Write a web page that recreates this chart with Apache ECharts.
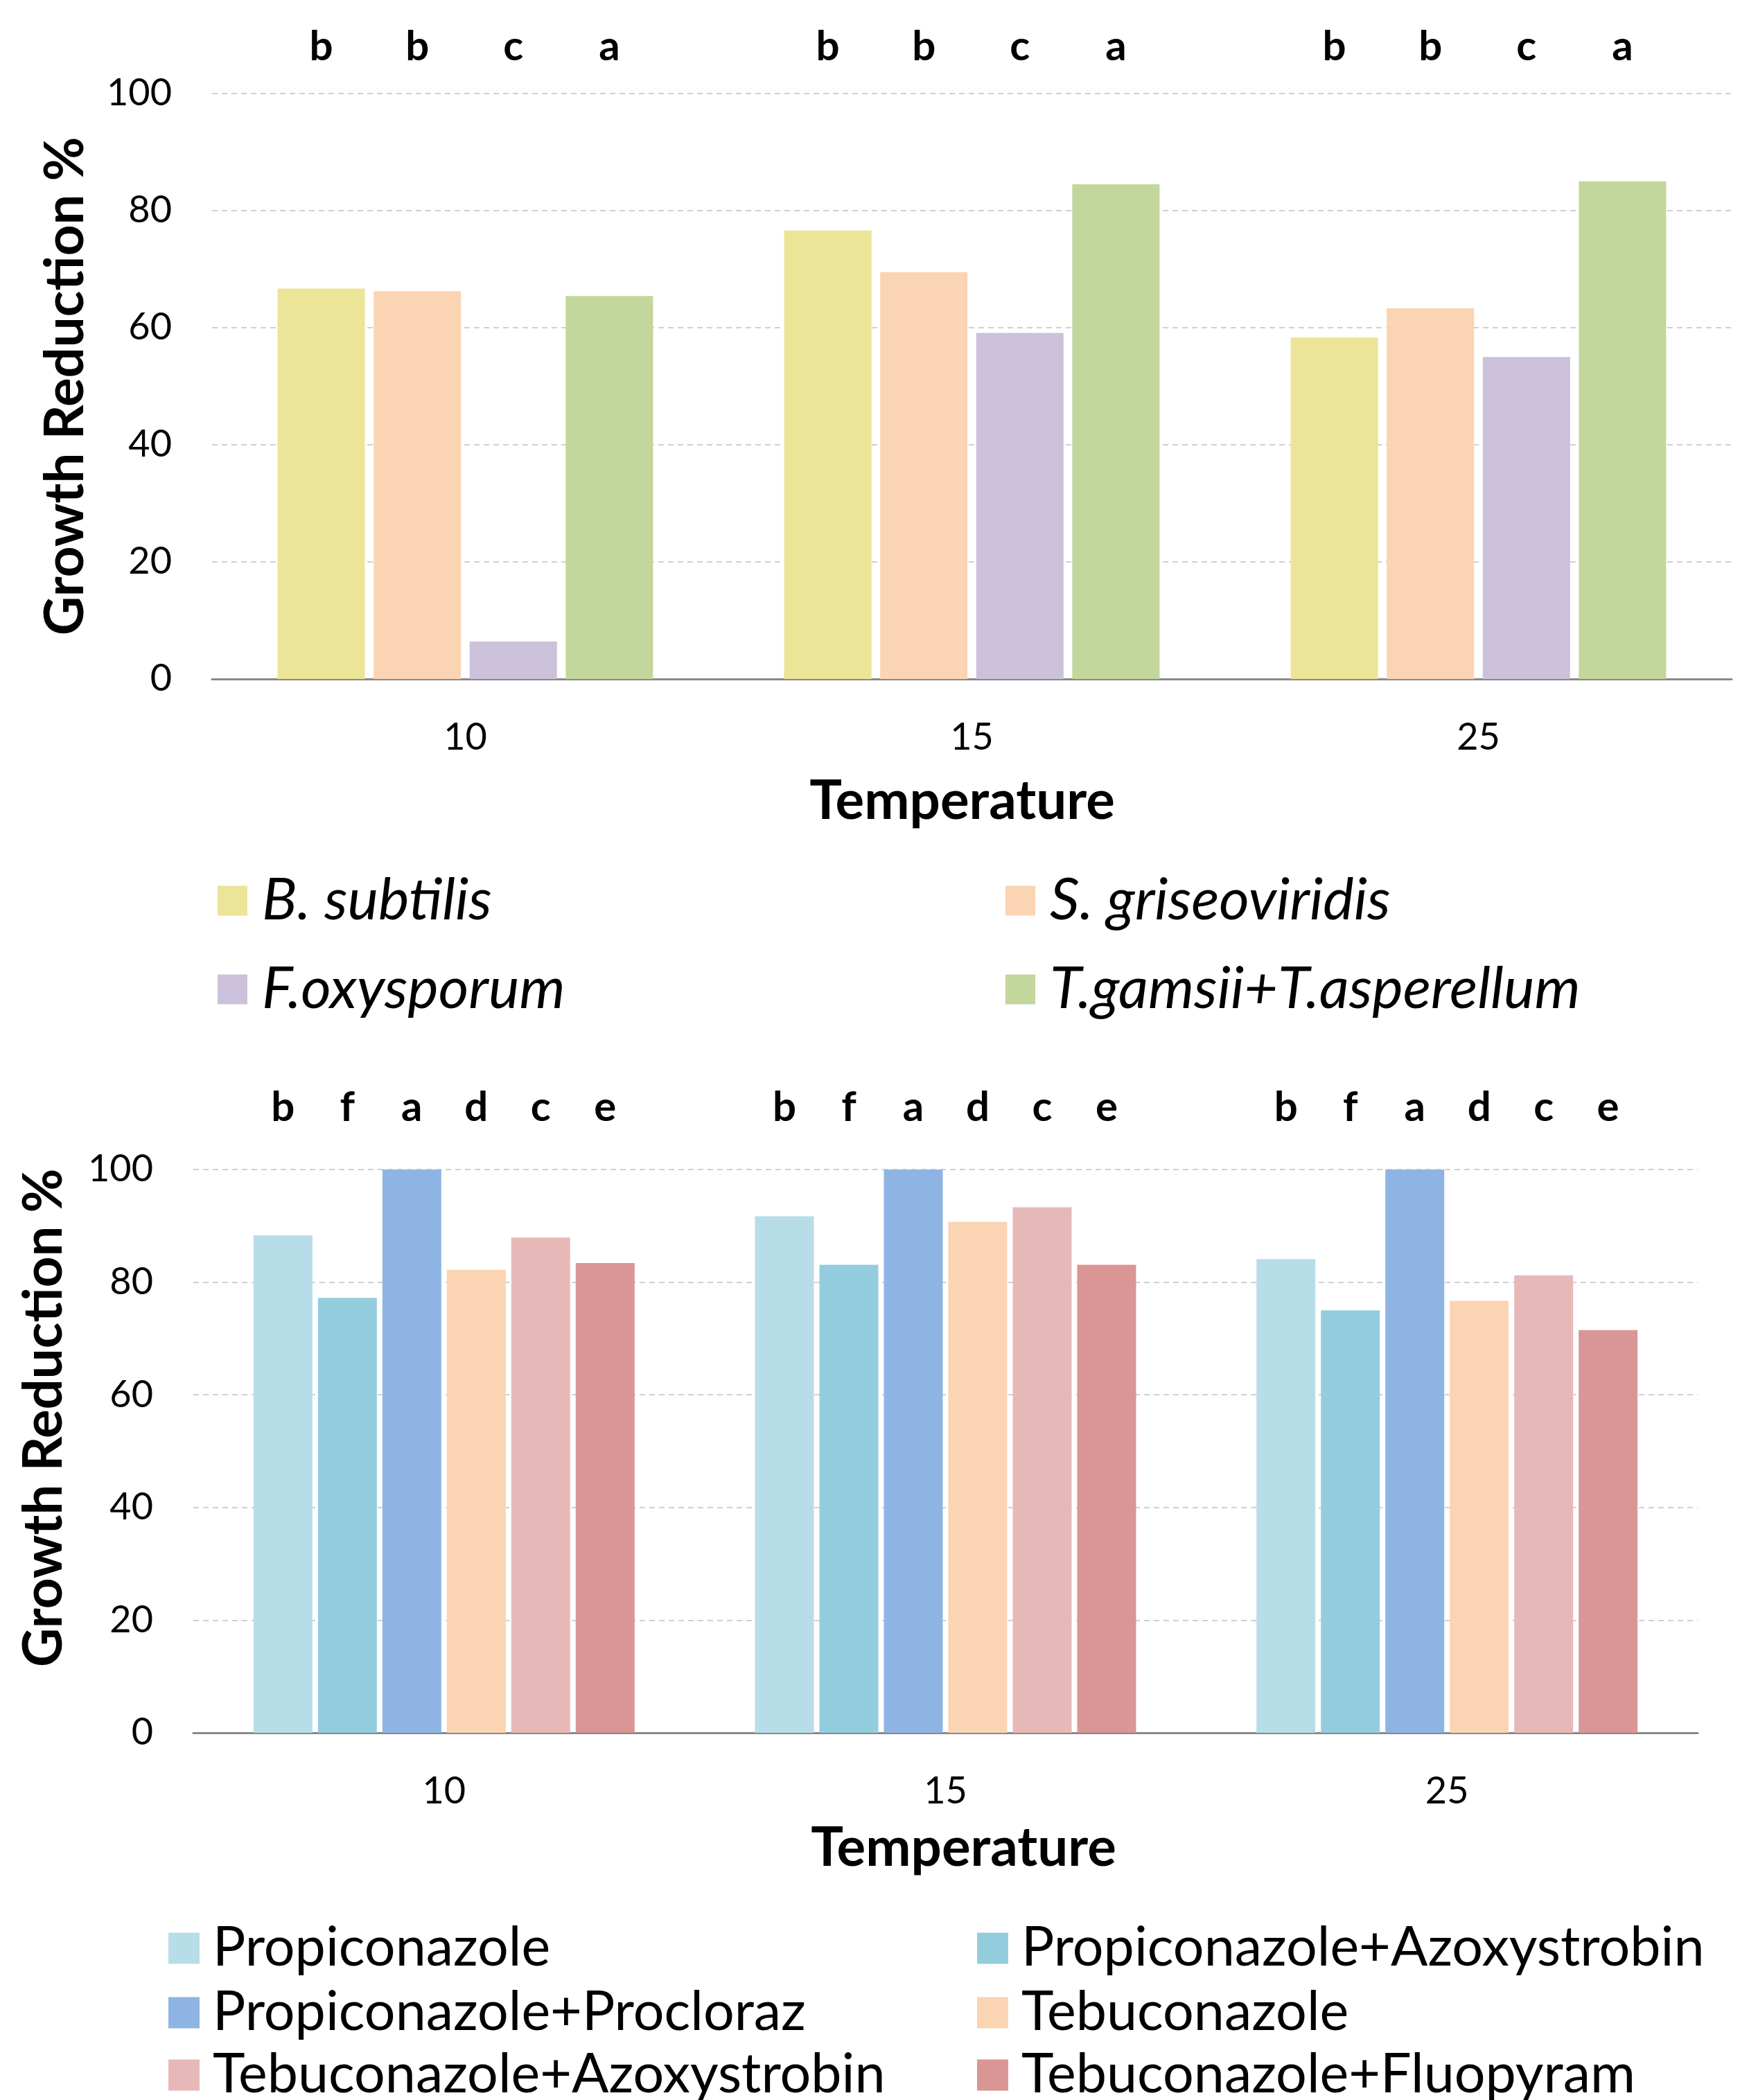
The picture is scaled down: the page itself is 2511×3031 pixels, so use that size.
<!DOCTYPE html>
<html>
<head>
<meta charset="utf-8">
<script src="https://cdn.jsdelivr.net/npm/echarts@6/dist/echarts.min.js"></script>
<style>
  html, body { margin: 0; padding: 0; background: #fff; }
  #main { width: 2511px; height: 3031px; }
</style>
</head>
<body>
<div id="main"></div>
<script>
// data
const temps = ['10', '15', '25'];

const bioNames = ['B. subtilis', 'S. griseoviridis', 'F.oxysporum', 'T.gamsii+T.asperellum'];
const bioValues = [
    [66.7, 76.6, 58.3],
    [66.2, 69.5, 63.3],
    [6.4, 59.1, 55.0],
    [65.4, 84.5, 85.0]
];
const bioLetters = [
    ['b', 'b', 'b'],
    ['b', 'b', 'b'],
    ['c', 'c', 'c'],
    ['a', 'a', 'a']
];

const chemNames = ['Propiconazole', 'Propiconazole+Azoxystrobin', 'Propiconazole+Procloraz',
    'Tebuconazole', 'Tebuconazole+Azoxystrobin', 'Tebuconazole+Fluopyram'];
const chemValues = [
    [88.3, 91.7, 84.1],
    [77.2, 83.1, 75.0],
    [100, 100, 100],
    [82.2, 90.7, 76.7],
    [87.9, 93.3, 81.2],
    [83.4, 83.1, 71.5]
];
const chemLetters = [
    ['b', 'b', 'b'],
    ['f', 'f', 'f'],
    ['a', 'a', 'a'],
    ['d', 'd', 'd'],
    ['c', 'c', 'c'],
    ['e', 'e', 'e']
];

const yMin = 0, yMax = 100, yStep = 20;

// styling
const bioColors = ['#ECE496', '#FBD4B4', '#CCC1DA', '#C3D69B'];
const chemColors = ['#B7DDE8', '#93CDDD', '#8EB4E3', '#FBD4B4', '#E6B9B8', '#D99694'];
const FONT = 'Lato';
const LETTER_LEVEL_TOP = 108;   // value height where the letters sit
const LETTER_LEVEL_BOTTOM = 111;

const chart = echarts.init(document.getElementById('main'), null, { renderer: 'canvas' });

function barSeries(names, values, letters, colors, axis, barWidth, barGap, level) {
    const out = [];
    names.forEach((name, i) => {
        out.push({
            type: 'bar',
            name: name,
            xAxisIndex: axis,
            yAxisIndex: axis,
            stack: 'g' + axis + '_' + i,
            barWidth: barWidth,
            barGap: barGap,
            data: values[i],
            itemStyle: { color: colors[i] },
            silent: true
        });
        // invisible cap up to the letter row, its label carries the letter
        out.push({
            type: 'bar',
            name: name + ' letters',
            xAxisIndex: axis,
            yAxisIndex: axis,
            stack: 'g' + axis + '_' + i,
            barWidth: barWidth,
            barGap: barGap,
            data: values[i].map(v => level - v),
            itemStyle: { color: 'rgba(0,0,0,0)' },
            clip: false,
            silent: true,
            label: {
                show: true,
                position: 'top',
                distance: 0,
                verticalAlign: 'middle',
                formatter: p => letters[i][p.dataIndex],
                fontFamily: FONT,
                fontWeight: 'bold',
                fontSize: 60,
                color: '#000'
            }
        });
    });
    return out;
}

function legends(names, colors, cols, rows, italic, fontSize, iconSize, pad) {
    return names.map((name, i) => ({
        data: [{ name: name, icon: 'rect', itemStyle: { color: colors[i] } }],
        left: cols[i % 2],
        top: rows[Math.floor(i / 2)] - 45,
        itemWidth: iconSize,
        itemHeight: iconSize,
        selectedMode: false,
        textStyle: {
            fontFamily: FONT,
            fontStyle: italic ? 'italic' : 'normal',
            fontSize: fontSize,
            lineHeight: 90,
            color: '#000',
            padding: [0, 0, 0, pad]
        }
    }));
}

const axisLabelStyle = { fontFamily: FONT, fontSize: 54, color: '#000' };
const nameStyle = { fontFamily: FONT, fontSize: 78, fontWeight: 'bold', color: '#000' };

function xAxis(idx, gap, namePad) {
    return {
        type: 'category',
        gridIndex: idx,
        data: temps,
        name: 'Temperature',
        nameLocation: 'middle',
        nameGap: gap,
        nameTextStyle: Object.assign({ padding: namePad }, nameStyle),
        axisLine: { lineStyle: { color: '#898989', width: 3 } },
        axisTick: { show: false },
        axisLabel: Object.assign({ margin: 58 }, axisLabelStyle),
        splitLine: { show: false }
    };
}

function yAxis(idx, gap, namePad) {
    return {
        type: 'value',
        gridIndex: idx,
        min: yMin,
        max: yMax,
        interval: yStep,
        name: 'Growth Reduction %',
        nameLocation: 'middle',
        nameGap: gap,
        nameTextStyle: Object.assign({ padding: namePad }, nameStyle),
        axisLine: { show: false },
        axisTick: { show: false },
        axisLabel: Object.assign({ margin: 58 }, axisLabelStyle),
        splitLine: { lineStyle: { color: '#D0D0D0', width: 2, type: [8, 6] } }
    };
}

const option = {
    animation: false,
    backgroundColor: '#fff',
    grid: [
        { left: 306, right: 12, top: 135, bottom: 3031 - 980 },
        { left: 279, right: 61, top: 1688, bottom: 3031 - 2501 }
    ],
    xAxis: [xAxis(0, 138, [0, 28, 0, 0]), xAxis(1, 128, [0, 0, 0, 52])],
    yAxis: [yAxis(0, 172, [0, 0, 0, 0]), yAxis(1, 176, [0, 0, 0, 96])],
    legend: [
        ...legends(bioNames, bioColors, [309, 1446], [1295, 1423], true, 84, 43, 16),
        ...legends(chemNames, chemColors, [238, 1405], [2807, 2900, 2990], false, 79, 45, 14)
    ],
    series: [
        ...barSeries(bioNames, bioValues, bioLetters, bioColors, 0, 126, '10%', LETTER_LEVEL_TOP),
        ...barSeries(chemNames, chemValues, chemLetters, chemColors, 1, 85, '9.4%', LETTER_LEVEL_BOTTOM)
    ]
};

chart.setOption(option);
</script>
</body>
</html>
